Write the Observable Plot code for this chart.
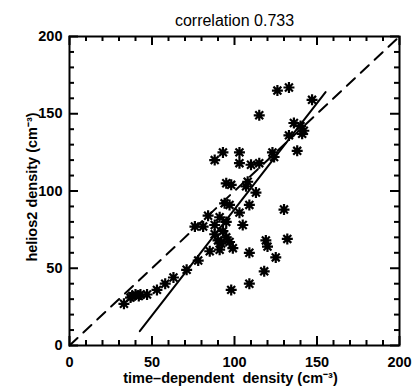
<!DOCTYPE html>
<html>
<head>
<meta charset="utf-8">
<script src="https://cdn.jsdelivr.net/npm/d3@7"></script>
<script src="https://cdn.jsdelivr.net/npm/@observablehq/plot@0.6"></script>
<style>
  html, body { margin: 0; padding: 0; background: #fff; }
  #chart svg { display: block; font-family: "Liberation Sans", Arial, sans-serif; }
</style>
</head>
<body>
<div id="chart"></div>
<script>
// ---- data ----
const title = "correlation 0.733";
const xLabel = "time\u2013dependent  density (cm\u207B\u00B3)";
const yLabel = "helios2 density (cm\u207B\u00B3)";

const timeDependent = [
  33, 37, 40, 43, 47, 53, 58, 63, 71, 78,
  85, 91, 99, 109, 125, 118, 109, 98, 90, 92,
  88, 119, 120, 132, 76, 81, 88, 105, 95, 84,
  91, 130, 103, 94, 97, 109, 113, 107, 95, 98,
  108, 93, 88, 103, 103, 110, 115, 123, 124, 138,
  133, 141, 142, 136, 140, 147, 115, 126, 133, 95,
  93, 97, 38, 42
];
const helios2 = [
  27, 31, 33, 33, 33, 36, 40, 44, 49, 55,
  61, 62, 63, 60, 57, 48, 40, 36, 68, 66,
  72, 68, 64, 69, 77, 77, 78, 78, 80, 84,
  83, 88, 86, 92, 91, 91, 99, 103, 105, 104,
  106, 125, 120, 125, 118, 117, 118, 125, 122, 126,
  136, 137, 139, 144, 142, 159, 149, 165, 167, 70,
  74, 67, 32, 32
];

const majorTicks = [0, 50, 100, 150, 200];
const minorTicks = [10, 20, 30, 40, 60, 70, 80, 90, 110, 120, 130, 140, 160, 170, 180, 190];

// one-to-one reference line and least-squares fit line end points
const diagX = [0, 200];
const diagY = [0, 200];
const fitX = [42.6, 155.2];
const fitY = [9.3, 164];

const points = timeDependent.map((x, i) => ({x, y: helios2[i]}));
const diag = diagX.map((x, i) => ({x, y: diagY[i]}));
const fit = fitX.map((x, i) => ({x, y: fitY[i]}));

// layout
const W = 415, H = 391, mL = 69, mR = 16, mT = 36, mB = 46;
const fw = W - mL - mR, fh = H - mT - mB;
const majorLen = 9, minorLen = 5; // pixels, drawn inward

// IDL-style asterisk (8 arms)
const asterisk = {
  draw(ctx, size) {
    const r = Math.sqrt(size / Math.PI);
    const d = r * 0.72;
    ctx.moveTo(-r, 0); ctx.lineTo(r, 0);
    ctx.moveTo(0, -r); ctx.lineTo(0, r);
    ctx.moveTo(-d, -d); ctx.lineTo(d, d);
    ctx.moveTo(-d, d); ctx.lineTo(d, -d);
  }
};

const tickStyle = {stroke: "#000", strokeWidth: 2};
const ticksFor = (vals, len) => [
  Plot.tickX(vals, {x: d => d, insetTop: fh - len, ...tickStyle}),
  Plot.tickX(vals, {x: d => d, insetBottom: fh - len, ...tickStyle}),
  Plot.tickY(vals, {y: d => d, insetRight: fw - len, ...tickStyle}),
  Plot.tickY(vals, {y: d => d, insetLeft: fw - len, ...tickStyle})
];

const chart = Plot.plot({
  width: W,
  height: H,
  marginLeft: mL,
  marginRight: mR,
  marginTop: mT,
  marginBottom: mB,
  style: {fontFamily: "'Liberation Sans', Arial, sans-serif", background: "#fff", color: "#000"},
  x: {domain: [0, 200]},
  y: {domain: [0, 200]},
  marks: [
    ...ticksFor(minorTicks, minorLen),
    ...ticksFor(majorTicks, majorLen),
    Plot.axisX(majorTicks, {anchor: "bottom", tickSize: 0, tickPadding: 11, label: null,
      fontSize: 14.5, fontWeight: "bold"}),
    Plot.axisY(majorTicks, {anchor: "left", tickSize: 0, tickPadding: 7, label: null,
      fontSize: 14.5, fontWeight: "bold"}),
    Plot.frame({stroke: "#000", strokeWidth: 2}),
    Plot.line(diag, {x: "x", y: "y", stroke: "#000", strokeWidth: 2, strokeDasharray: "11,8"}),
    Plot.line(fit, {x: "x", y: "y", stroke: "#000", strokeWidth: 2}),
    Plot.dot(points, {x: "x", y: "y", symbol: asterisk, r: 5.5, stroke: "#000", strokeWidth: 2.2, fill: "none"}),
    Plot.text([title], {frameAnchor: "top", dy: -22, fontSize: 16, fill: "#000"}),
    Plot.text([xLabel], {frameAnchor: "bottom", dy: 37, dx: -4, fontSize: 14.5,
      fontWeight: "bold", fill: "#000"}),
    Plot.text([yLabel], {frameAnchor: "left", textAnchor: "middle", rotate: -90, dx: -37, dy: -4,
      fontSize: 14.5, fontWeight: "bold", fill: "#000"})
  ]
});
document.getElementById("chart").appendChild(chart);
</script>
</body>
</html>
